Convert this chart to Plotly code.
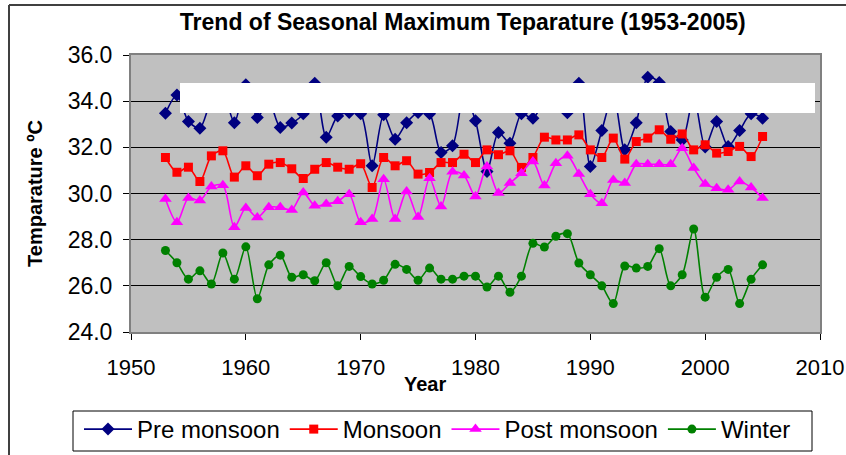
import plotly.graph_objects as go

years = list(range(1953, 2006))

pre_monsoon = [33.48, 34.27, 33.12, 32.83, 34.0, 34.3, 33.07, 34.71, 33.29, 34.0,
               32.86, 33.05, 33.45, 34.78, 32.44, 33.36, 33.51, 33.45, 31.2, 33.41,
               32.35, 33.07, 33.51, 33.45, 31.78, 32.07, 34.3, 33.15, 30.95, 32.64,
               32.18, 33.45, 33.26, 34.0, 34.2, 33.5, 34.78, 31.17, 32.73, 34.3,
               31.89, 33.07, 35.04, 34.81, 32.69, 32.32, 34.2, 32.01, 33.12, 32.04,
               32.73, 33.45, 33.26]

monsoon = [31.56, 30.92, 31.14, 30.52, 31.63, 31.85, 30.71, 31.2, 30.77, 31.27,
           31.34, 31.07, 30.65, 31.05, 31.34, 31.14, 31.05, 31.29, 30.26, 31.56,
           31.2, 31.42, 30.84, 30.91, 31.34, 31.34, 31.70, 31.34, 31.89, 31.68,
           31.85, 31.13, 31.56, 32.44, 32.32, 32.32, 32.54, 31.89, 31.56, 32.40,
           31.49, 32.25, 32.40, 32.76, 32.35, 32.58, 31.89, 32.11, 31.75, 31.82,
           32.04, 31.60, 32.47]

post_monsoon = [29.76, 28.75, 29.81, 29.70, 30.30, 30.36, 28.54, 29.37, 28.96, 29.4,
                29.4, 29.29, 30.04, 29.47, 29.54, 29.66, 29.97, 28.75, 28.89, 30.62,
                28.89, 30.09, 28.98, 30.66, 29.44, 30.94, 30.78, 29.87, 31.17, 30.02,
                30.45, 30.88, 31.39, 30.35, 31.31, 31.63, 30.85, 29.97, 29.58, 30.59,
                30.45, 31.27, 31.27, 31.27, 31.27, 31.96, 31.10, 30.41, 30.23, 30.16,
                30.52, 30.26, 29.80]

winter = [27.53, 27.0, 26.29, 26.65, 26.08, 27.42, 26.29, 27.69, 25.44, 26.91,
          27.33, 26.37, 26.48, 26.22, 27.0, 26.0, 26.84, 26.4, 26.08, 26.24,
          26.93, 26.71, 26.24, 26.77, 26.29, 26.29, 26.42, 26.42, 25.95, 26.42,
          25.72, 26.42, 27.84, 27.68, 28.15, 28.26, 26.99, 26.48, 26.0, 25.23,
          26.86, 26.77, 26.84, 27.61, 26.0, 26.48, 28.46, 25.51, 26.37, 26.71,
          25.23, 26.28, 26.91]

series = [
    ("Pre monsoon", pre_monsoon, "#000080", "diamond", 10),
    ("Monsoon", monsoon, "#FF0000", "square", 9),
    ("Post monsoon", post_monsoon, "#FF00FF", "triangle-up", 11),
    ("Winter", winter, "#008000", "circle", 9),
]

FONT = "Liberation Sans, Arial, sans-serif"
W, H = 846, 455
PL, PT, PW, PH = 131, 55, 689, 277  # plot area in pixels


def px_x(px):
    return (px - PL) / PW


def px_y(py):
    return (PT + PH - py) / PH


fig = go.Figure()
for name, vals, color, sym, size in series:
    fig.add_trace(go.Scatter(
        x=years, y=vals, name=name, mode="lines+markers",
        line=dict(color=color, width=1.6, shape="spline", smoothing=0.8),
        marker=dict(symbol=sym, size=size, color=color),
    ))

fig.update_layout(
    width=W, height=H,
    margin=dict(l=PL, r=W - PL - PW, t=PT, b=H - PT - PH, autoexpand=False),
    paper_bgcolor="white",
    plot_bgcolor="#C0C0C0",
    font=dict(family=FONT, color="black"),
    title=dict(text="<b>Trend of Seasonal Maximum Teparature (1953-2005)</b>",
               x=0.547, xref="container", xanchor="center",
               y=1 - 22 / H, yref="container", yanchor="middle",
               font=dict(size=23, family=FONT, color="black")),
    xaxis=dict(range=[1950, 2010], dtick=10, tick0=1950, showgrid=False,
               zeroline=False, showline=True, linecolor="#808080", linewidth=2,
               mirror=True, ticks="outside", ticklen=6, tickcolor="black",
               tickfont=dict(size=22), ticklabelstandoff=9),
    yaxis=dict(range=[24, 36], dtick=2, tick0=24, tickformat=".1f",
               showgrid=True, gridcolor="black", gridwidth=1,
               zeroline=False, showline=True, linecolor="#808080", linewidth=2,
               mirror=True, ticks="outside", ticklen=6, tickcolor="black",
               tickfont=dict(size=23), ticklabelstandoff=6,
               title=dict(text="<b>Temparature ºC</b>", font=dict(size=20), standoff=20)),
    legend=dict(orientation="h", x=px_x(79), y=px_y(407),
                xref="paper", yref="paper",
                xanchor="left", yanchor="top",
                borderwidth=0, bgcolor="rgba(0,0,0,0)",
                font=dict(size=24), itemwidth=48, traceorder="normal"),
    annotations=[
        dict(text="<b>Year</b>", xref="paper", yref="paper",
             x=px_x(425), y=px_y(384),
             xanchor="center", yanchor="middle", showarrow=False,
             font=dict(size=20)),
    ],
    shapes=[
        dict(type="rect", xref="paper", yref="paper",
             x0=px_x(180), x1=px_x(815), y0=px_y(113), y1=px_y(83),
             fillcolor="white", line=dict(width=0), layer="above"),
        dict(type="rect", xref="paper", yref="paper",
             x0=px_x(73), x1=px_x(812), y0=px_y(451), y1=px_y(411),
             fillcolor="white", line=dict(color="black", width=1), layer="above"),
        dict(type="line", xref="paper", yref="paper",
             x0=px_x(9), x1=px_x(900), y0=px_y(5), y1=px_y(5),
             line=dict(color="#404040", width=2)),
        dict(type="line", xref="paper", yref="paper",
             x0=px_x(9), x1=px_x(9), y0=px_y(5), y1=px_y(500),
             line=dict(color="#404040", width=2)),
    ],
)

fig.write_html(
    "out.html",
    config={"displayModeBar": False},
    post_script="document.body.style.margin='0';document.body.style.padding='0';document.body.style.overflow='hidden';",
)
